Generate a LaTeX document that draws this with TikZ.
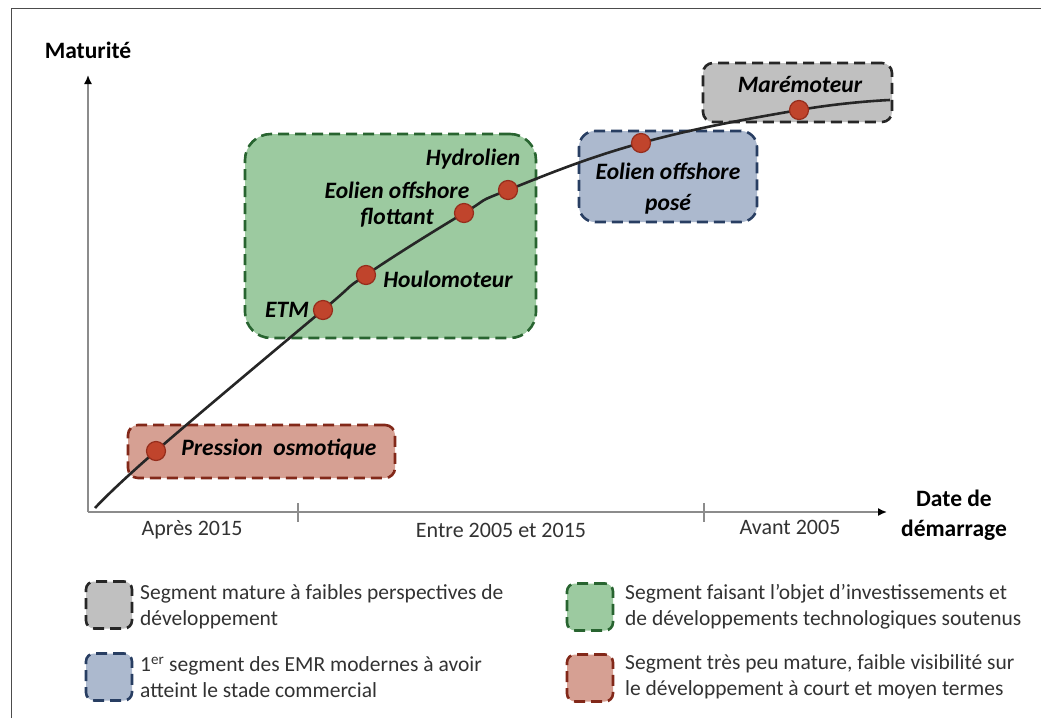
\documentclass[tikz,border=0pt]{standalone}
\usepackage{fontspec}
\setmainfont{Carlito}
\usetikzlibrary{arrows.meta}

\definecolor{segGray}{RGB}{192,192,192}
\definecolor{segBlue}{RGB}{172,185,206}
\definecolor{segGreen}{RGB}{156,202,160}
\definecolor{segRed}{RGB}{214,160,147}
\definecolor{edgeBlue}{RGB}{40,62,98}
\definecolor{edgeGreen}{RGB}{40,100,48}
\definecolor{edgeRed}{RGB}{130,40,25}
\definecolor{dotRed}{RGB}{192,68,44}
\definecolor{dotEdge}{RGB}{150,45,28}
\definecolor{axisGray}{RGB}{140,140,140}
\definecolor{txtGray}{RGB}{50,50,50}

\begin{document}
\begin{tikzpicture}[x=1pt,y=-1pt]

\tikzset{seg/.style = {draw, line width=2.6pt, dash pattern=on 11pt off 6pt, rounded corners=10pt, inner sep=0pt},
	key/.style = {seg, minimum width=46pt, minimum height=47pt, rounded corners=8pt},
	dot/.style = {circle, fill=dotRed, draw=dotEdge, line width=1.2pt, minimum size=19pt, inner sep=0pt},
	lbl/.style = {font=\fontsize{23.5}{26}\selectfont\bfseries\itshape, align=center, inner sep=0pt},
	axtxt/.style = {font=\fontsize{22}{24}\selectfont, text=txtGray, inner sep=0pt},
	legtxt/.style = {font=\fontsize{21.5}{25.5}\selectfont, text=txtGray, align=left, anchor=west, inner sep=0pt}}

\useasboundingbox (0,0) rectangle (1041,718);

% frame
\draw[black!70, line width=1pt] (11,718) -- (11,8) -- (1041,8);

% segments
\node[seg, fill=segGreen, draw=edgeGreen, minimum width=291pt, minimum height=204pt, rounded corners=26pt] (green) at (390.5,236) {};
\node[seg, fill=segBlue, draw=edgeBlue, minimum width=178pt, minimum height=91pt, rounded corners=16pt] (blue) at (668,176.5) {};
\node[seg, fill=segGray, draw=black!85, minimum width=189pt, minimum height=59pt] (gray) at (797.5,92.5) {};
\node[seg, fill=segRed, draw=edgeRed, minimum width=267pt, minimum height=53pt] (red) at (261.5,451.5) {};

% axes
\coordinate (O) at (88,512);
\coordinate (ytop) at (88,75);
\coordinate (xend) at (887,512);
\draw[axisGray, line width=1.6pt, -{Latex[length=9pt,width=8pt,black]}] (O) -- (ytop);
\draw[axisGray, line width=1.6pt, -{Latex[length=9pt,width=8pt,black]}] (O) -- (xend);
\foreach \t in {298,704}
	\draw[axisGray, line width=1.2pt] (\t,503) -- (\t,522);

\node[font=\fontsize{23.5}{26}\selectfont\bfseries, inner sep=0pt] (ylab) at (88,50) {Maturité};
\node[font=\fontsize{23.5}{30}\selectfont\bfseries, align=center, inner sep=0pt] (xlab) at (954,515) {Date de\\démarrage};
\node[axtxt] (apres) at (192,530) {Après 2015};
\node[axtxt] (entre) at (501,530) {Entre 2005 et 2015};
\node[axtxt] (avant) at (790,527) {Avant 2005};

% curve
\foreach \name/\px/\py in {c0/95/508, pre/156/451, etm/323/310, hou/366/275, flo/464/213, hyd/508/190, pos/641/143, mar/799/110, c9/890/100}
	\coordinate (\name) at (\px,\py);

\draw[black!85, line width=2.6pt] plot[smooth, tension=0.7] coordinates {(c0) (pre) (etm) (hou) (flo) (hyd) (pos) (mar) (c9)};

\foreach \name in {pre,etm,hou,flo,hyd,pos,mar}
	\node[dot] (d\name) at (\name) {};

% labels
\node[lbl] (tmar) at (800,84) {Marémoteur};
\node[lbl, font=\fontsize{23.5}{31}\selectfont\bfseries\itshape] (tpos) at (668,189) {Eolien offshore\\posé};
\node[lbl] (thyd) at (473,159) {Hydrolien};
\node[lbl] (tflo) at (397,205) {Eolien offshore\\flottant};
\node[lbl] (thou) at (448,279) {Houlomoteur};
\node[lbl] (tetm) at (287,310) {ETM};
\node[lbl] (tpre) at (279,449) {Pression\ \ osmotique};

% legend
\node[key, fill=segGray, draw=black!85] (kgray) at (109,605) {};
\node[key, fill=segBlue, draw=edgeBlue] (kblue) at (109,677) {};
\node[key, fill=segGreen, draw=edgeGreen] (kgreen) at (590,607) {};
\node[key, fill=segRed, draw=edgeRed] (kred) at (590,678) {};

\node[legtxt] (lgray) at (140,607) {Segment mature à faibles perspectives de\\développement};
\node[legtxt] (lblue) at (140,677) {1\textsuperscript{er} segment des EMR modernes à avoir\\atteint le stade commercial};
\node[legtxt] (lgreen) at (625,607) {Segment faisant l’objet d’investissements et\\de développements technologiques soutenus};
\node[legtxt] (lred) at (625,677) {Segment très peu mature, faible visibilité sur\\le développement à court et moyen termes};

\end{tikzpicture}
\end{document}
